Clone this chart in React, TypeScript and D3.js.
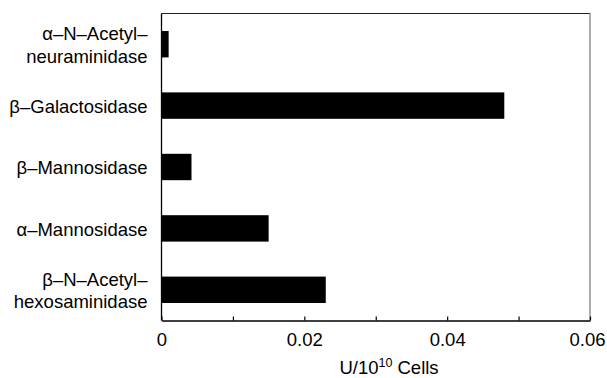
import React, { useEffect, useRef } from 'react';
import * as d3 from 'd3';

const enzymes = [
	['α–N–Acetyl–', 'neuraminidase'],
	['β–Galactosidase'],
	['β–Mannosidase'],
	['α–Mannosidase'],
	['β–N–Acetyl–', 'hexosaminidase'],
];
const activity = [0.001, 0.048, 0.0042, 0.015, 0.023];
const tickValues = [0, 0.01, 0.02, 0.03, 0.04, 0.05, 0.06];
const tickLabels = ['0', '', '0.02', '', '0.04', '', '0.06'];

const width = 607;
const height = 378;
const margin = { top: 13.5, right: 17, bottom: 57.5, left: 161.5 };
const font = '"Liberation Sans", Arial, Helvetica, sans-serif';
const fontSize = 18.5;

const drawChart = (node) => {
	const svg = d3.select(node);
	svg.selectAll('*').remove();

	const innerW = width - margin.left - margin.right;
	const innerH = height - margin.top - margin.bottom;

	const x = d3.scaleLinear().domain([0, 0.06]).range([0, innerW]);
	const y = d3.scaleBand()
		.domain(d3.range(enzymes.length).map(String))
		.range([0, innerH])
		.paddingInner(0.57)
		.paddingOuter(0.285);

	const g = svg.append('g')
		.attr('transform', `translate(${ margin.left },${ margin.top })`);

	g.selectAll('rect.bar')
		.data(activity)
		.join('rect')
		.attr('class', 'bar')
		.attr('x', 0)
		.attr('y', (d, i) => y(String(i)))
		.attr('width', (d) => x(d))
		.attr('height', y.bandwidth())
		.attr('fill', '#000');

	// frame: top dark, right lighter
	g.append('line')
		.attr('x1', 0).attr('x2', innerW)
		.attr('y1', 0).attr('y2', 0)
		.attr('stroke', '#222')
		.attr('stroke-width', 1.2);
	g.append('line')
		.attr('x1', innerW).attr('x2', innerW)
		.attr('y1', 0).attr('y2', innerH)
		.attr('stroke', '#777')
		.attr('stroke-width', 1.2);
	g.append('line')
		.attr('x1', 0).attr('x2', 0)
		.attr('y1', 0).attr('y2', innerH)
		.attr('stroke', '#000')
		.attr('stroke-width', 1.3);

	const xAxis = d3.axisBottom(x)
		.tickValues(tickValues)
		.tickSizeInner(-4)
		.tickSizeOuter(0)
		.tickPadding(12)
		.tickFormat((d, i) => tickLabels[i]);

	const ax = g.append('g')
		.attr('transform', `translate(0,${ innerH })`)
		.call(xAxis);
	ax.select('.domain').attr('stroke', '#000')
		.attr('stroke-width', 1.3);
	ax.selectAll('.tick line').attr('stroke', '#000')
		.attr('stroke-width', 1.2);
	ax.selectAll('.tick text')
		.attr('font-family', font)
		.attr('font-size', fontSize)
		.attr('fill', '#000')
		// keep the last label inside the page
		.attr('dx', (d, i) => (i === tickValues.length - 1 ? -3 : 0));

	// category labels
	const labels = g.selectAll('text.cat')
		.data(enzymes)
		.join('text')
		.attr('class', 'cat')
		.attr('text-anchor', 'end')
		.attr('font-family', font)
		.attr('font-size', fontSize)
		.attr('fill', '#000')
		.attr('transform', (d, i) => `translate(-14,${ y(String(i)) + (y.bandwidth() / 2) })`);

	labels.each(function (d) {
		const t = d3.select(this);
		const lh = 22.6;
		const start = -((d.length - 1) * lh) / 2;
		d.forEach((line, k) => {
			t.append('tspan')
				.attr('x', 0)
				.attr('y', start + (k * lh))
				.attr('dy', '0.4em')
				.text(line);
		});
	});

	// axis title
	const title = svg.append('text')
		.attr('x', 389)
		.attr('y', 373.5)
		.attr('text-anchor', 'middle')
		.attr('font-family', font)
		.attr('font-size', fontSize)
		.attr('fill', '#000');
	title.append('tspan').text('U/10');
	title.append('tspan')
		.attr('font-size', 12.5)
		.attr('dy', -7)
		.text('10');
	title.append('tspan')
		.attr('dy', 7)
		.text(' Cells');
};

const App = () => {
	const ref = useRef(null);

	useEffect(() => {
		drawChart(ref.current);
	}, []);

	return (
		<svg
			ref={ ref }
			width={ width }
			height={ height }
			style={ { position: 'absolute', left: 0, top: 0, background: '#fff' } }
		/>
	);
};

export default App;
